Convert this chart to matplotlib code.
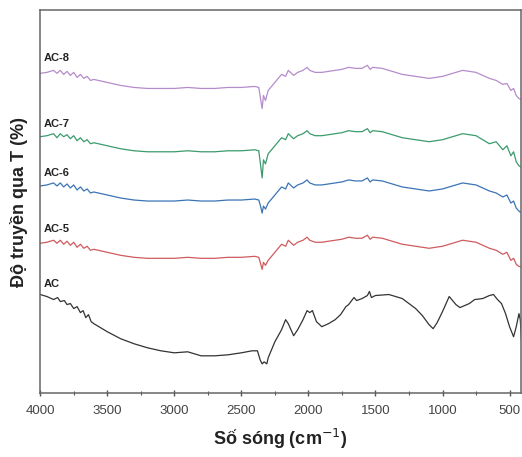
import matplotlib
matplotlib.use("Agg")
import matplotlib.pyplot as plt
from matplotlib.ticker import MultipleLocator

plt.rcParams["font.family"] = ["Liberation Sans", "DejaVu Sans"]

# wavenumber grid shared by the modified samples (cm^-1)
wn_mod = [4000, 3950, 3900, 3875, 3850, 3825, 3800, 3775, 3750, 3725,
          3700, 3675, 3650, 3625, 3600, 3500, 3400, 3300, 3200, 3100,
          3000, 2900, 2800, 2700, 2600, 2500, 2400, 2370, 2355, 2345,
          2335, 2320, 2300, 2250, 2200, 2170, 2150, 2110, 2080, 2040,
          2010, 1990, 1950, 1900, 1850, 1800, 1750, 1700, 1650, 1600,
          1560, 1540, 1520, 1450, 1400, 1300, 1200, 1100, 1000, 900,
          850, 750, 650, 600, 550, 520, 490, 470, 450, 430,
          400]

t_ac8 = [318, 319, 321, 318, 321, 317, 320, 316, 319, 314,
         317, 313, 315, 311, 312, 309, 306, 304, 303, 303,
         303, 304, 303, 303, 304, 304, 305, 304, 291, 283,
         296, 291, 301, 309, 317, 315, 321, 316, 319, 321,
         324, 321, 319, 319, 320, 321, 322, 324, 323, 323,
         326, 322, 324, 323, 321, 317, 315, 313, 315, 319,
         321, 319, 313, 311, 307, 308, 301, 303, 296, 293,
         291]

t_ac7 = [255, 256, 258, 254, 258, 255, 257, 253, 256, 251,
         254, 250, 252, 248, 249, 246, 243, 241, 240, 240,
         240, 241, 240, 240, 241, 241, 242, 241, 225, 214,
         232, 228, 238, 246, 254, 252, 258, 253, 256, 258,
         261, 258, 256, 256, 257, 258, 259, 261, 260, 260,
         263, 259, 261, 260, 258, 254, 252, 250, 252, 256,
         258, 256, 248, 250, 242, 246, 236, 240, 230, 226,
         224]

t_ac6 = [206, 207, 209, 206, 209, 205, 208, 204, 207, 202,
         205, 201, 203, 199, 200, 197, 194, 192, 191, 191,
         191, 192, 191, 191, 192, 192, 193, 192, 185, 179,
         186, 183, 189, 197, 205, 203, 209, 204, 207, 209,
         212, 209, 207, 207, 208, 209, 210, 212, 211, 211,
         214, 210, 212, 211, 209, 205, 203, 201, 203, 207,
         209, 207, 201, 199, 195, 197, 189, 191, 184, 181,
         178]

t_ac5 = [149, 150, 152, 149, 152, 148, 151, 147, 150, 145,
         148, 144, 146, 142, 143, 140, 137, 135, 134, 134,
         134, 135, 134, 134, 135, 135, 136, 135, 128, 123,
         130, 127, 132, 140, 148, 146, 152, 147, 150, 152,
         155, 152, 150, 150, 151, 152, 153, 155, 154, 154,
         157, 153, 155, 154, 152, 148, 146, 144, 146, 150,
         152, 150, 144, 142, 138, 140, 132, 134, 128, 126,
         125]

# raw activated carbon
wn_ac = [4000, 3950, 3900, 3870, 3850, 3820, 3800, 3775, 3750, 3725,
         3700, 3680, 3660, 3640, 3620, 3600, 3500, 3400, 3300, 3200,
         3100, 3000, 2900, 2850, 2800, 2700, 2600, 2500, 2420, 2380,
         2360, 2345, 2330, 2310, 2300, 2250, 2200, 2170, 2150, 2110,
         2080, 2040, 2010, 1990, 1970, 1940, 1900, 1850, 1800, 1760,
         1720, 1700, 1660, 1640, 1600, 1560, 1545, 1530, 1500, 1400,
         1300, 1200, 1150, 1100, 1070, 1040, 1000, 950, 900, 870,
         800, 760, 700, 650, 620, 590, 560, 530, 500, 470,
         450, 430, 420, 410, 400]

t_ac = [98, 96, 93, 95, 91, 92, 88, 89, 84, 86,
        80, 82, 75, 78, 71, 69, 61, 54, 49, 45,
        42, 40, 41, 39, 37, 37, 38, 40, 42, 42,
        33, 29, 31, 29, 35, 51, 63, 73, 69, 57,
        63, 73, 82, 80, 82, 71, 66, 69, 73, 78,
        86, 88, 95, 92, 94, 97, 101, 95, 97, 98,
        94, 84, 77, 68, 64, 70, 81, 96, 88, 85,
        89, 93, 94, 97, 98, 93, 89, 79, 66, 56,
        66, 79, 73, 50, 41]

labels = ["AC-8", "AC-7", "AC-6", "AC-5", "AC"]
colors = ["#b58ccb", "#3b9b6c", "#3b74b5", "#cf5b5e", "#333333"]
label_y = [333, 268, 219, 163, 108]

fig = plt.figure(figsize=(5.22, 4.57), dpi=100)
ax = fig.add_axes([0.077, 0.140, 0.921, 0.838])

series = [(wn_mod, t_ac8), (wn_mod, t_ac7), (wn_mod, t_ac6),
          (wn_mod, t_ac5), (wn_ac, t_ac)]
for (x, y), c, name, ly in zip(series, colors, labels, label_y):
    ax.plot(x, y, color=c, lw=0.9)
    ax.text(3975, ly, name, fontsize=8, fontweight="bold",
            color="#222222", ha="left", va="center")

ax.set_xlim(4000, 415)
ax.set_ylim(0, 381)
ax.set_yticks([])
ax.xaxis.set_major_locator(MultipleLocator(500))
ax.xaxis.set_minor_locator(MultipleLocator(250))
ax.tick_params(axis="x", which="major", direction="inout", length=5,
               width=1, color="#555555", labelsize=9.5, labelcolor="#444444",
               pad=6)
ax.tick_params(axis="x", which="minor", direction="inout", length=3,
               width=0.8, color="#555555")
for s in ax.spines.values():
    s.set_color("#666666")
    s.set_linewidth(1.1)

ax.set_xlabel("Số sóng (cm$^{-1}$)", fontsize=13, fontweight="bold",
              color="#222222", labelpad=7)
ax.set_ylabel("Độ truyền qua T (%)", fontsize=13, fontweight="bold",
              color="#222222", labelpad=9)

fig.savefig("out.png", dpi=100)
